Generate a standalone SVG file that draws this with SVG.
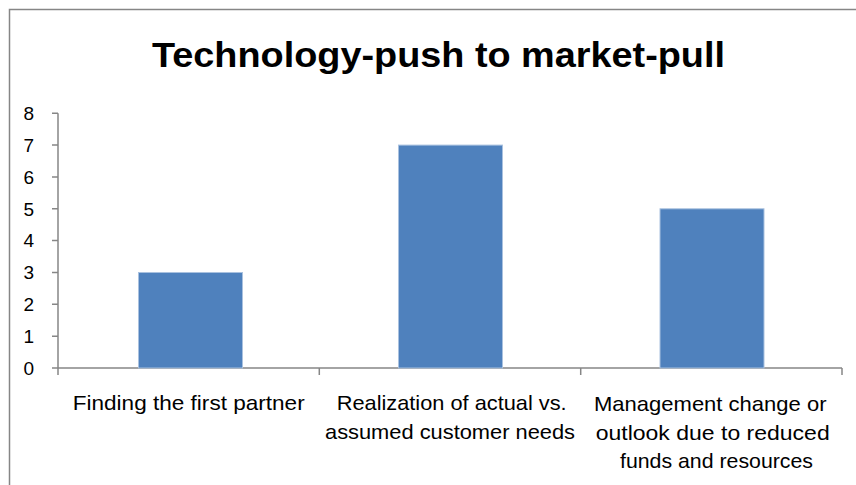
<svg xmlns="http://www.w3.org/2000/svg" width="856" height="485" viewBox="0 0 856 485">
<style>
.t{font-family:"Liberation Sans",Arial,sans-serif;fill:#000}
.title{font-size:35px;font-weight:bold}
.ax{font-size:19px;text-anchor:end}
.cat{font-size:21px}
.axis{stroke:#868686;stroke-width:1.5;fill:none}
.bar{fill:#4F81BD;stroke:#A9C1DF;stroke-width:1}
</style>
<rect x="0" y="0" width="856" height="485" fill="#fff"/>
<rect x="9.5" y="9.5" width="900" height="600" fill="none" stroke="#868686" stroke-width="1.5"/>
<text class="t title" x="152" y="67" textLength="573" lengthAdjust="spacingAndGlyphs">Technology-push to market-pull</text>
<g id="axes">
<path class="axis" d="M58 113.2V375M52 113.2H58M52 145.1H58M52 176.9H58M52 208.8H58M52 240.6H58M52 272.5H58M52 304.3H58M52 336.2H58M52 368H842M319.3 368V375M580.7 368V375M842 368V375"/>
<text class="t ax" x="34" y="120">8</text>
<text class="t ax" x="34" y="151.8">7</text>
<text class="t ax" x="34" y="183.6">6</text>
<text class="t ax" x="34" y="215.5">5</text>
<text class="t ax" x="34" y="247.3">4</text>
<text class="t ax" x="34" y="279.2">3</text>
<text class="t ax" x="34" y="311">2</text>
<text class="t ax" x="34" y="342.9">1</text>
<text class="t ax" x="34" y="374.7">0</text>
</g>
<g id="bar1">
<rect class="bar" x="138.5" y="272.5" width="104" height="95.5"/>
<text class="t cat" x="72.7" y="410" textLength="232" lengthAdjust="spacingAndGlyphs">Finding the first partner</text>
</g>
<g id="bar2">
<rect class="bar" x="398.5" y="145.1" width="104" height="222.9"/>
<text class="t cat" x="336.7" y="410" textLength="230" lengthAdjust="spacingAndGlyphs">Realization of actual vs.</text>
<text class="t cat" x="325" y="439.3" textLength="250" lengthAdjust="spacingAndGlyphs">assumed customer needs</text>
</g>
<g id="bar3">
<rect class="bar" x="660" y="208.8" width="104" height="159.2"/>
<text class="t cat" x="594" y="410.5" textLength="232.5" lengthAdjust="spacingAndGlyphs">Management change or</text>
<text class="t cat" x="595.7" y="439.5" textLength="234" lengthAdjust="spacingAndGlyphs">outlook due to reduced</text>
<text class="t cat" x="620" y="468" textLength="193" lengthAdjust="spacingAndGlyphs">funds and resources</text>
</g>
</svg>
